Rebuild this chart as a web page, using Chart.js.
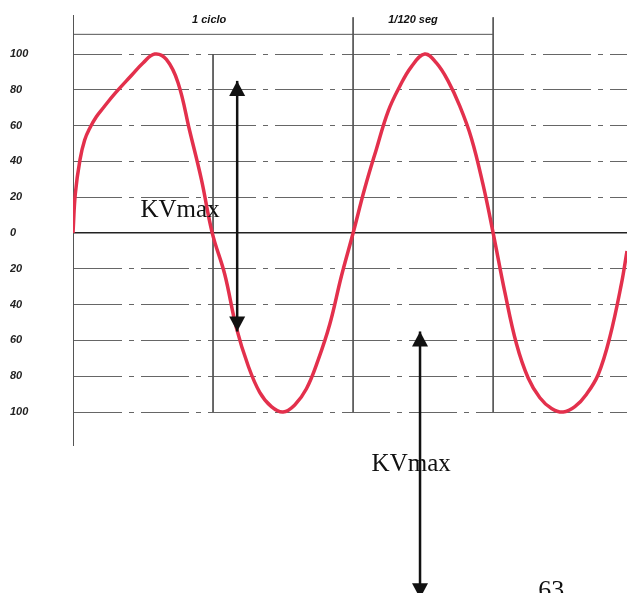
<!DOCTYPE html>
<html>
<head>
<meta charset="utf-8">
<script src="https://cdn.jsdelivr.net/npm/chart.js@4"></script>
<style>
  html, body { margin: 0; padding: 0; background: #fff; }
  #wrap { width: 627px; height: 593px; }
</style>
</head>
<body>
<div id="wrap"><canvas id="c" width="627" height="593"></canvas></div>
<script>
// Phase angle (degrees) along the wave
const waveX = [0, 3, 9, 15, 22, 30, 39, 54, 75, 90, 105, 120, 135, 150, 165, 179,
  195, 210, 225, 240, 255, 270, 285, 300, 315, 330, 345, 360,
  375, 390, 405, 420, 435, 452, 467, 482, 497, 512, 527, 540,
  555, 570, 585, 600, 615, 630, 645, 660, 675, 690, 705, 712];
// Voltage (% of KVmax)
const waveY = [0, 22, 41, 52, 59, 65, 70, 78, 88, 95, 100, 97, 84, 57, 30, 0,
  -23, -53, -74, -89, -97, -100, -96, -87, -71, -51, -24, 0,
  25, 47, 68, 82, 93, 100, 95, 85, 71, 53, 27, 0,
  -33, -62, -81, -92, -98, -100, -97, -90, -79, -58, -28, -10];
// Y tick values / labels
const yTicks = [100, 80, 60, 40, 20, 0, -20, -40, -60, -80, -100];
// Vertical cycle marks (degrees) and their top ends
const markX = [180, 360, 540];
const markTop = [100, 120.5, 120.5];
const markBottom = -100;
// Top bracket ("1 ciclo" ... "1/120 seg")
const bracketFrom = 0, bracketTo = 540, bracketLevel = 111;
const topLabels = ["1 ciclo", "1/120 seg"];
const topLabelX = [175, 437];
// KVmax arrows: x, from, to
const arrowX = [211, 446];
const arrowFrom = [-55, -55];
const arrowTo = [85, -204];
const kvLabel = "KVmax";
const kvLabelX = [137.6, 434.6];
const kvLabelY = [12.8, -129];
const pageNumber = "63";

const wavePts = waveX.map((x, i) => ({ x, y: waveY[i] }));
const guideSets = markX.map((x, i) => ({
  data: [{ x, y: markTop[i] }, { x, y: markBottom }],
  borderColor: '#555', borderWidth: 1, pointRadius: 0, tension: 0, order: 2
}));
const bracketSet = {
  data: [{ x: bracketFrom, y: bracketLevel }, { x: bracketTo, y: bracketLevel }],
  borderColor: '#555', borderWidth: 1, pointRadius: 0, tension: 0, order: 2
};

function head(ctx, px, tip, dir) {
  ctx.beginPath(); ctx.moveTo(px, tip);
  ctx.lineTo(px - 8, tip - dir * 15); ctx.lineTo(px + 8, tip - dir * 15);
  ctx.closePath(); ctx.fill();
}

const annot = {
  id: 'annot',
  afterDraw(chart) {
    const { ctx, scales: { x, y } } = chart;
    ctx.save();
    ctx.strokeStyle = '#111'; ctx.fillStyle = '#111'; ctx.lineWidth = 2.5;
    arrowX.forEach((ax, i) => {
      const px = x.getPixelForValue(ax);
      const p0 = y.getPixelForValue(arrowFrom[i]);
      const p1 = y.getPixelForValue(arrowTo[i]);
      ctx.beginPath(); ctx.moveTo(px, p0); ctx.lineTo(px, p1); ctx.stroke();
      const dir = p1 < p0 ? -1 : 1;
      head(ctx, px, p1, dir);
      head(ctx, px, p0, -dir);
    });
    ctx.fillStyle = '#111';
    ctx.font = '25px "Liberation Serif", "DejaVu Serif", serif';
    ctx.textAlign = 'center'; ctx.textBaseline = 'middle';
    kvLabelX.forEach((lx, i) => {
      ctx.fillText(kvLabel, x.getPixelForValue(lx), y.getPixelForValue(kvLabelY[i]));
    });
    ctx.font = '26px "Liberation Serif", "DejaVu Serif", serif';
    ctx.fillText(pageNumber, x.getPixelForValue(614.6), y.getPixelForValue(-200));
    ctx.font = 'italic bold 11px "Liberation Sans", Arial, sans-serif';
    topLabels.forEach((t, i) => {
      ctx.fillText(t, x.getPixelForValue(topLabelX[i]), y.getPixelForValue(119));
    });
    ctx.restore();
  }
};

new Chart(document.getElementById('c'), {
  type: 'line',
  data: {
    datasets: [
      {
        data: wavePts, borderColor: '#e3304c', borderWidth: 3.5, pointRadius: 0,
        tension: 0.4, order: 0
      },
      ...guideSets,
      bracketSet
    ]
  },
  options: {
    responsive: false,
    animation: false,
    layout: { padding: { left: 10, top: 15, right: 0, bottom: 148 } },
    plugins: { legend: { display: false }, tooltip: { enabled: false } },
    scales: {
      x: { type: 'linear', min: 0, max: 712, display: false },
      y: {
        type: 'linear', min: -118.4, max: 121.8,
        afterBuildTicks: (s) => { s.ticks = yTicks.map(v => ({ value: v })); },
        afterFit: (s) => { s.width = 63; },
        ticks: {
          callback: (v) => String(Math.abs(v)),
          crossAlign: 'far', padding: 0,
          color: '#222',
          font: { family: '"Liberation Sans", Arial, sans-serif', size: 11, style: 'italic', weight: 'bold' }
        },
        grid: {
          drawTicks: false,
          color: (c) => (c.tick && c.tick.value === 0) ? '#222' : '#666',
          lineWidth: (c) => (c.tick && c.tick.value === 0) ? 1.6 : 1
        },
        border: {
          display: true, color: '#555', width: 1,
          dash: (c) => (c.tick && c.tick.value !== 0) ? [48, 7, 5, 7] : []
        }
      }
    }
  },
  plugins: [annot]
});
</script>
</body>
</html>
